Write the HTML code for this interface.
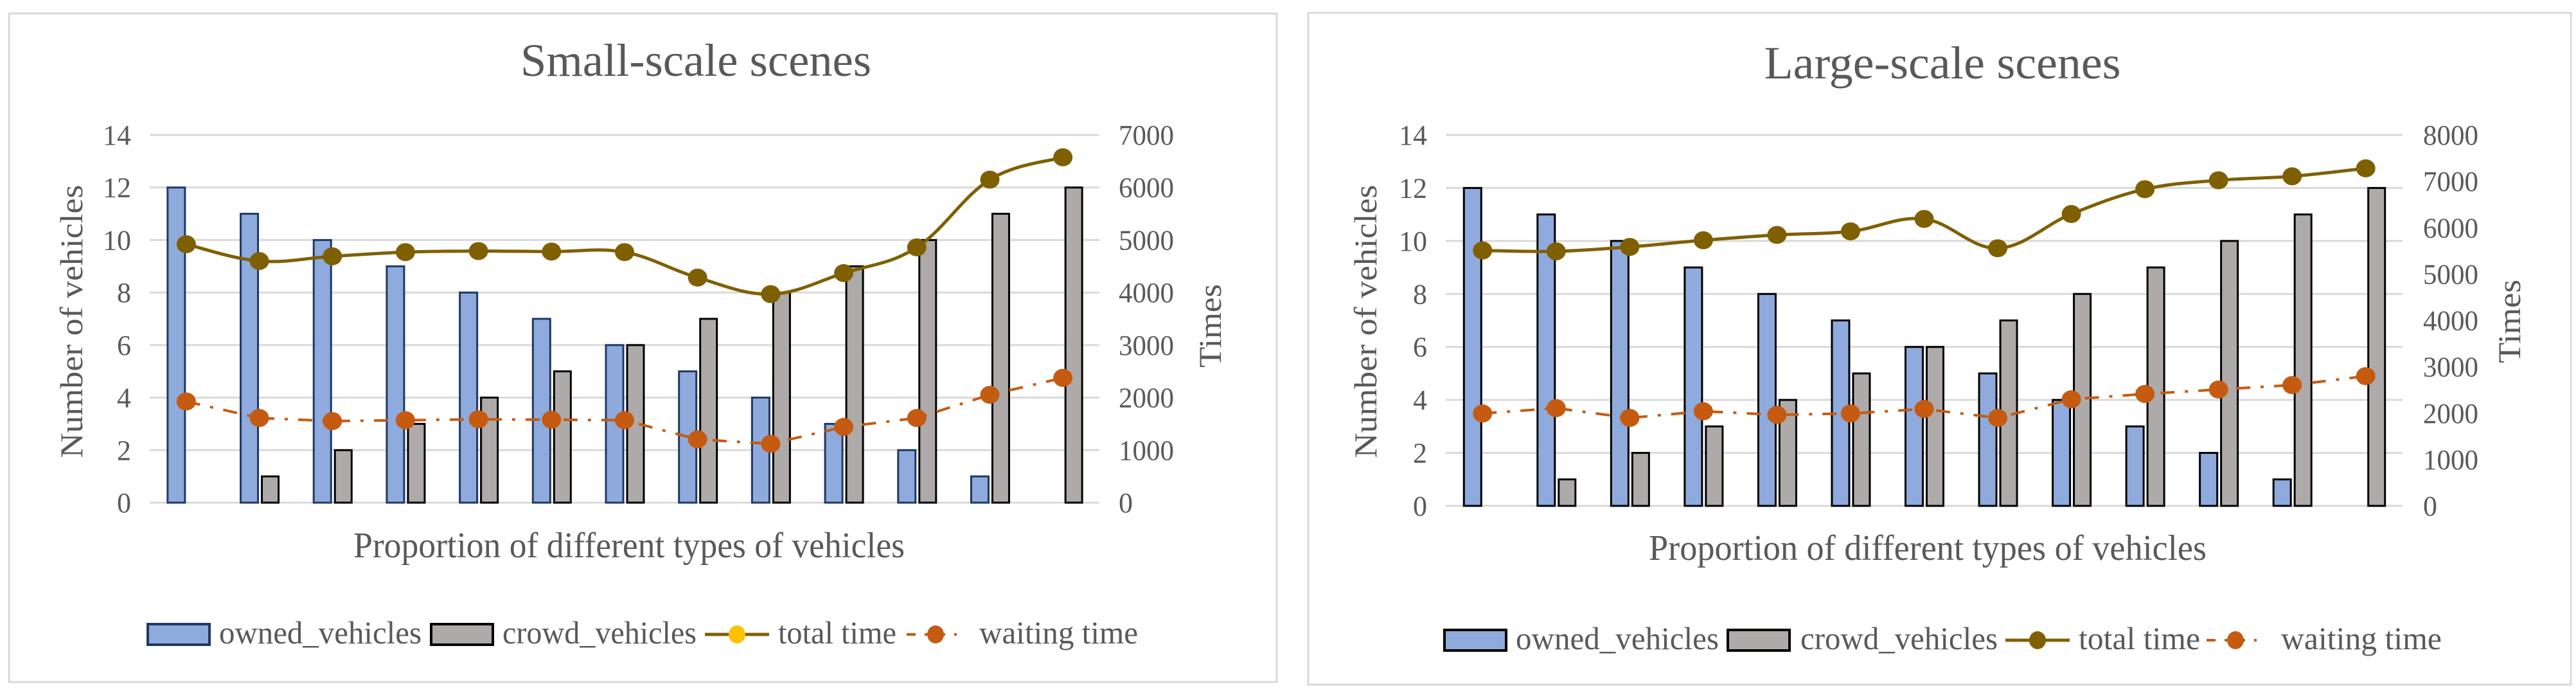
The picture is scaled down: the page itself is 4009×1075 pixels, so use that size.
<!DOCTYPE html>
<html><head><meta charset="utf-8"><style>
html,body{margin:0;padding:0;background:#fff;}
svg{display:block;}
text{font-family:"Liberation Serif",serif;fill:#595959;}
</style></head><body>
<svg id="chart" width="4009" height="1075" viewBox="0 0 4009 1075" xmlns="http://www.w3.org/2000/svg">
<rect x="14" y="21" width="1973" height="1040" fill="#fff" stroke="#d9d9d9" stroke-width="3"/>
<rect x="2036" y="20" width="1965" height="1045" fill="#fff" stroke="#d9d9d9" stroke-width="3"/>
<g id="left"></g>
<g id="right"></g>
</svg>
<script>
const categories = ["12:0","11:1","10:2","9:3","8:4","7:5","6:6","5:7","4:8","3:9","2:10","1:11","0:12"];
const ownedVehicles = [12,11,10,9,8,7,6,5,4,3,2,1,0];
const crowdVehicles = [0,1,2,3,4,5,6,7,8,9,10,11,12];
const leftAxisTicks = [0,2,4,6,8,10,12,14];
const smallRightTicks = [0,1000,2000,3000,4000,5000,6000,7000];
const largeRightTicks = [0,1000,2000,3000,4000,5000,6000,7000,8000];
const smallTotalTime = [4920,4600,4690,4770,4790,4780,4770,4285,3970,4370,4860,6150,6575];
const smallWaitingTime = [1926,1612,1553,1570,1587,1580,1570,1205,1120,1442,1612,2053,2376];
const largeTotalTime = [5509,5490,5586,5729,5844,5921,6189,5557,6295,6831,7023,7109,7281];
const largeWaitingTime = [1993,2108,1897,2041,1964,1993,2089,1897,2299,2414,2510,2606,2798];

const NS = "http://www.w3.org/2000/svg";
function mk(parent, tag, attrs, txt){
  const e = document.createElementNS(NS, tag);
  for (const k in attrs) e.setAttribute(k, attrs[k]);
  if (txt !== undefined) e.textContent = txt;
  parent.appendChild(e);
  return e;
}
function smoothPath(pts){
  let d = "M" + pts[0][0] + "," + pts[0][1];
  for (let i = 0; i < pts.length - 1; i++){
    const p0 = pts[Math.max(0,i-1)], p1 = pts[i], p2 = pts[i+1], p3 = pts[Math.min(pts.length-1,i+2)];
    const t = 0.3;
    const c1x = p1[0] + (p2[0]-p0[0])*t/1.0*0.6, c1y = p1[1] + (p2[1]-p0[1])*t/1.0*0.6;
    const c2x = p2[0] - (p3[0]-p1[0])*t/1.0*0.6, c2y = p2[1] - (p3[1]-p1[1])*t/1.0*0.6;
    d += " C" + c1x + "," + c1y + " " + c2x + "," + c2y + " " + p2[0] + "," + p2[1];
  }
  return d;
}
function drawChart(g, cfg){
  const x0 = cfg.x0, x1 = cfg.x1, yTop = cfg.yTop, yBot = cfg.yBot;
  const bw = (x1 - x0) / categories.length;
  const xc = i => x0 + bw * (i + 0.5);
  const yL = v => yBot - (v / 14) * (yBot - yTop);
  const rMax = cfg.rTicks[cfg.rTicks.length-1];
  const yR = v => yBot - (v / rMax) * (yBot - yTop);

  let t = mk(g, "text", {x: cfg.titleX, y: cfg.titleY, "text-anchor":"middle", "font-size":"72", textLength: cfg.titleLen, lengthAdjust:"spacingAndGlyphs"}, cfg.title);
  
  

  leftAxisTicks.forEach(v => {
    const y = yL(v);
    const l = mk(g, "line", {x1: x0, x2: x1, y1: y, y2: y, stroke: "#d9d9d9", "stroke-width": 3});
    
    
    const tl = mk(g, "text", {x: cfg.lTickX, y: y + 15, "text-anchor": "end", "font-size": "44"}, String(v));
    
    
  });
  cfg.rTicks.forEach(v => {
    const tr = mk(g, "text", {x: cfg.rTickX, y: yR(v) + 15, "text-anchor": "start", "font-size": "44", textLength: v===0?22:86, lengthAdjust:"spacingAndGlyphs"}, String(v));
    
    
  });

  categories.forEach((c, i) => {
    const cx = xc(i);
    if (ownedVehicles[i] > 0){
      const b = mk(g, "rect", {x: cx - 29, y: yL(ownedVehicles[i]), width: 27, height: yBot - yL(ownedVehicles[i]), fill: "#8faadc", stroke: cfg.ownedStroke, "stroke-width": 3});
      
      
    }
    if (crowdVehicles[i] > 0){
      const b2 = mk(g, "rect", {x: cx + 4, y: yL(crowdVehicles[i]), width: 26, height: yBot - yL(crowdVehicles[i]), fill: "#aeaaaa", stroke: "#000", "stroke-width": 3});
      
      
    }
  });

  const wPts = cfg.waiting.map((v, i) => [xc(i), yR(v)]);
  const wl = mk(g, "polyline", {points: wPts.map(p => p.join(",")).join(" "), fill: "none", stroke: "#c55a11", "stroke-width": 4, "stroke-dasharray": "22 16 5 16"});
  
  
  wPts.forEach(p => {
    const m = mk(g, "ellipse", {cx: p[0], cy: p[1], rx: 15, ry: 14, fill: "#c55a11"});
    
    
  });

  const tPts = cfg.total.map((v, i) => [xc(i), yR(v)]);
  const tl2 = mk(g, "path", {d: smoothPath(tPts), fill: "none", stroke: "#7f6000", "stroke-width": 5});
  
  
  tPts.forEach(p => {
    const m = mk(g, "ellipse", {cx: p[0], cy: p[1], rx: 15, ry: 14, fill: "#7f6000"});
    
    
  });

  let yt = mk(g, "text", {x: 0, y: 0, "text-anchor": "middle", "font-size": "50", textLength: 425, lengthAdjust: "spacingAndGlyphs", transform: "translate(" + (cfg.yTitleX) + ",500) rotate(-90)"}, "Number of vehicles");
  
  
  let rt = mk(g, "text", {x: 0, y: 0, "text-anchor": "middle", "font-size": "50", textLength: 130, lengthAdjust: "spacingAndGlyphs", transform: "translate(" + (cfg.rTitleX) + "," + cfg.rTitleY + ") rotate(-90)"}, "Times");
  
  
  let xt = mk(g, "text", {x: cfg.xTitleX, y: cfg.xTitleY, "text-anchor": "middle", "font-size": "56", textLength: cfg.xTitleLen, lengthAdjust: "spacingAndGlyphs"}, "Proportion of different types of vehicles");
  
  

  // legend
  const L = cfg.legend, ly = cfg.legendY;
  const lg = mk(g, "g", {});
  
  
  let s1 = mk(lg, "rect", {x: L[0], y: ly - 16, width: 96, height: 32, fill: "#8faadc", stroke: cfg.ownedStroke, "stroke-width": 4});
  
  
  let lt1 = mk(lg, "text", {x: L[1], y: ly + 14, "font-size": "50", textLength: L[2], lengthAdjust: "spacingAndGlyphs"}, "owned_vehicles");
  
  
  let s2 = mk(lg, "rect", {x: L[3], y: ly - 16, width: 96, height: 32, fill: "#aeaaaa", stroke: "#000", "stroke-width": 4});
  
  
  let lt2 = mk(lg, "text", {x: L[4], y: ly + 14, "font-size": "50", textLength: L[5], lengthAdjust: "spacingAndGlyphs"}, "crowd_vehicles");
  
  
  let s3 = mk(lg, "line", {x1: L[6], x2: L[6] + 100, y1: ly, y2: ly, stroke: "#7f6000", "stroke-width": 5});
  
  
  let s3m = mk(lg, "ellipse", {cx: L[6] + 50, cy: ly, rx: 13, ry: 14, fill: cfg.legendTotalMarker});
  
  
  let lt3 = mk(lg, "text", {x: L[7], y: ly + 14, "font-size": "50", textLength: L[8], lengthAdjust: "spacingAndGlyphs"}, "total time");
  
  
  let s4 = mk(lg, "line", {x1: L[9], x2: L[9] + 90, y1: ly, y2: ly, stroke: "#c55a11", "stroke-width": 4, "stroke-dasharray": "14 14 4 14"});
  
  
  let s4m = mk(lg, "ellipse", {cx: L[9] + 45, cy: ly, rx: 13, ry: 14, fill: "#c55a11"});
  
  
  let lt4 = mk(lg, "text", {x: L[10], y: ly + 14, "font-size": "50", textLength: L[11], lengthAdjust: "spacingAndGlyphs"}, "waiting time");
  
  
}

drawChart(document.getElementById("left"), {
  x0: 233, x1: 1711, yTop: 210, yBot: 782, rTicks: smallRightTicks,
  total: smallTotalTime, waiting: smallWaitingTime,
  title: "Small-scale scenes", titleX: 1083, titleY: 118, titleLen: 546,
  lTickX: 204, rTickX: 1741, yTitleX: 128, rTitleX: 1900, rTitleY: 507,
  xTitleX: 979, xTitleY: 867, xTitleLen: 858, ownedStroke: "#1f3864",
  legendY: 987, legendTotalMarker: "#ffc000",
  legend: [230, 341, 315, 671, 782, 302, 1097, 1211, 184, 1411, 1524, 247]
});
drawChart(document.getElementById("right"), {
  x0: 2250, x1: 3739, yTop: 210, yBot: 787, rTicks: largeRightTicks,
  total: largeTotalTime, waiting: largeWaitingTime,
  title: "Large-scale scenes", titleX: 3023, titleY: 122, titleLen: 555,
  lTickX: 2221, rTickX: 3771, yTitleX: 2142, rTitleX: 3922, rTitleY: 500,
  xTitleX: 3000, xTitleY: 871, xTitleLen: 868, ownedStroke: "#000",
  legendY: 996, legendTotalMarker: "#7f6000",
  legend: [2248, 2359, 316, 2689, 2802, 307, 3121, 3235, 189, 3434, 3550, 250]
});
</script>
</body></html>
